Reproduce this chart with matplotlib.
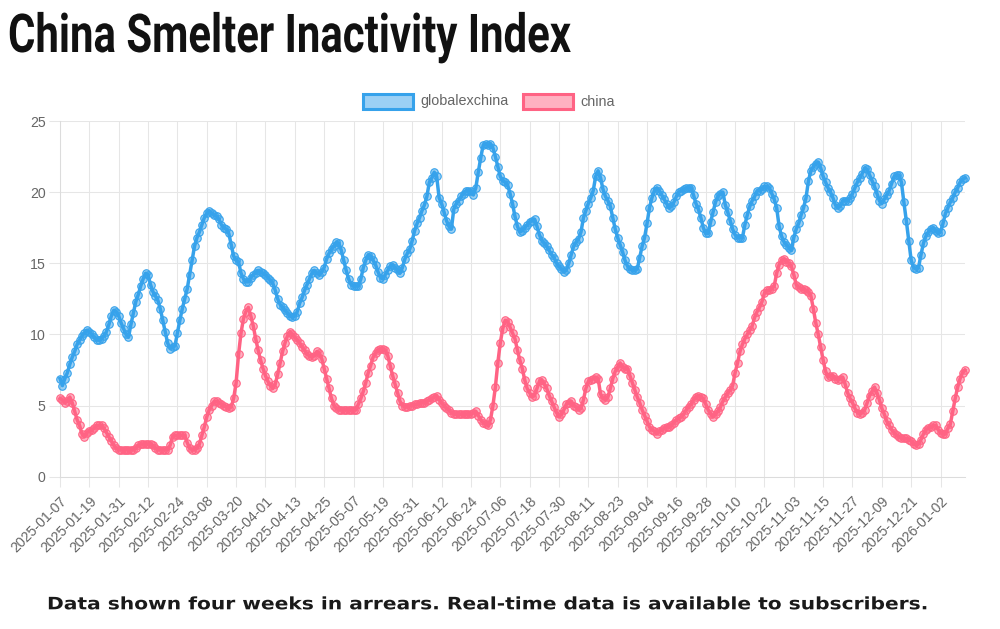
import matplotlib
matplotlib.use("Agg")
import matplotlib.pyplot as plt
from matplotlib.patches import Rectangle
from matplotlib.patheffects import AbstractPathEffect
from matplotlib.transforms import Affine2D
import numpy as np
import pandas as pd

# ---------------- data ----------------
title = "China Smelter Inactivity Index"
footer = "Data shown four weeks in arrears. Real-time data is available to subscribers."
series_names = ["globalexchina", "china"]
start_date = "2025-01-07"
n_days = 371

tick_labels = [
    "2025-01-07", "2025-01-19", "2025-01-31", "2025-02-12", "2025-02-24",
    "2025-03-08", "2025-03-20", "2025-04-01", "2025-04-13", "2025-04-25",
    "2025-05-07", "2025-05-19", "2025-05-31", "2025-06-12", "2025-06-24",
    "2025-07-06", "2025-07-18", "2025-07-30", "2025-08-11", "2025-08-23",
    "2025-09-04", "2025-09-16", "2025-09-28", "2025-10-10", "2025-10-22",
    "2025-11-03", "2025-11-15", "2025-11-27", "2025-12-09", "2025-12-21",
    "2026-01-02",
]
y_ticks = [0, 5, 10, 15, 20, 25]

globalexchina = [
    6.9, 6.4, 6.9, 7.3, 7.9, 8.4, 8.8, 9.3, 9.6, 9.9,
    10.1, 10.3, 10.2, 10.0, 9.8, 9.6, 9.6, 9.7, 9.9, 10.2,
    10.7, 11.3, 11.7, 11.6, 11.3, 10.8, 10.4, 10.0, 9.8, 10.7,
    11.5, 12.3, 12.8, 13.4, 13.9, 14.3, 14.2, 13.5, 13.0, 12.7,
    12.4, 11.8, 11.0, 10.2, 9.4, 9.0, 9.1, 9.2, 10.1, 11.0,
    11.8, 12.5, 13.2, 14.2, 15.2, 16.2, 16.8, 17.2, 17.7, 18.2,
    18.5, 18.7, 18.5, 18.4, 18.3, 18.1, 17.7, 17.5, 17.4, 17.1,
    16.3, 15.5, 15.2, 15.1, 14.3, 13.9, 13.7, 13.7, 14.0, 14.2,
    14.3, 14.5, 14.4, 14.3, 14.2, 14.0, 13.8, 13.6, 13.1, 12.5,
    12.1, 11.9, 11.7, 11.5, 11.3, 11.2, 11.3, 11.6, 12.2, 12.6,
    13.1, 13.5, 13.9, 14.3, 14.5, 14.3, 14.2, 14.4, 14.7, 15.3,
    15.7, 16.0, 16.2, 16.5, 16.4, 15.9, 15.2, 14.5, 13.9, 13.5,
    13.4, 13.4, 13.4, 13.9, 14.7, 15.2, 15.6, 15.5, 15.2, 14.9,
    14.4, 14.0, 13.9, 14.2, 14.5, 14.8, 14.9, 14.7, 14.5, 14.3,
    14.7, 15.3, 15.7, 16.0, 16.6, 17.3, 17.8, 18.2, 18.7, 19.1,
    19.7, 20.7, 21.0, 21.4, 21.1, 19.6, 19.2, 18.6, 18.0, 17.6,
    17.4, 18.8, 19.2, 19.4, 19.7, 19.9, 20.1, 20.1, 20.1, 19.8, 20.3,
    21.4, 22.4, 23.3, 23.4, 23.3, 23.4, 23.1, 22.5, 21.8, 21.1,
    20.8, 20.7, 20.5, 19.9, 19.2, 18.3, 17.6, 17.2, 17.3, 17.5,
    17.7, 17.9, 18.0, 18.1, 17.6, 17.0, 16.6, 16.4, 16.2, 15.9,
    15.6, 15.4, 15.0, 14.8, 14.6, 14.4, 14.5, 15.0, 15.6, 16.2,
    16.5, 16.7, 17.2, 18.2, 18.7, 19.2, 19.6, 20.1, 21.1, 21.5,
    21.0, 20.2, 19.7, 19.4, 19.0, 18.2, 17.4, 16.8, 16.3, 15.8,
    15.2, 14.8, 14.6, 14.5, 14.5, 14.6, 15.4, 16.2, 16.8, 17.8,
    18.9, 19.6, 20.1, 20.3, 20.1, 19.8, 19.5, 19.2, 18.9, 19.0,
    19.3, 19.7, 20.0, 20.1, 20.2, 20.3, 20.3, 20.3, 19.8, 19.2,
    18.8, 18.2, 17.5, 17.1, 17.1, 17.9, 18.6, 19.3, 19.7, 19.9,
    20.0, 19.1, 18.6, 18.0, 17.4, 17.0, 16.8, 16.8, 16.8, 17.7,
    18.4, 19.0, 19.4, 19.7, 20.1, 20.1, 20.2, 20.4, 20.4, 20.3,
    19.9, 19.5, 18.9, 17.6, 16.9, 16.5, 16.3, 16.1, 15.9, 16.8,
    17.4, 17.8, 18.4, 18.9, 19.6, 20.8, 21.5, 21.8, 22.0, 22.1,
    21.7, 21.1, 20.7, 20.3, 20.0, 19.6, 19.1, 18.9, 19.0, 19.4,
    19.4, 19.4, 19.6, 19.9, 20.3, 20.7, 21.0, 21.3, 21.7, 21.6,
    21.2, 20.8, 20.4, 19.9, 19.4, 19.2, 19.5, 19.8, 20.1, 20.6,
    21.1, 21.2, 21.2, 20.7, 19.3, 18.0, 16.6, 15.2, 14.7, 14.6,
    14.7, 15.6, 16.4, 16.9, 17.2, 17.4, 17.5, 17.3, 17.1, 17.2,
    17.8, 18.5, 18.9, 19.3, 19.6, 20.0, 20.3, 20.7, 20.9, 21.0,
]

china = [
    5.5, 5.4, 5.2, 5.3, 5.6, 5.2, 4.6, 4.0, 3.6, 3.0,
    2.8, 3.1, 3.2, 3.3, 3.4, 3.6, 3.6, 3.6, 3.4, 3.1,
    2.8, 2.5, 2.2, 2.0, 1.9, 1.9, 1.9, 1.9, 1.9, 1.9,
    1.9, 2.0, 2.2, 2.3, 2.3, 2.3, 2.3, 2.3, 2.2, 2.0,
    1.9, 1.9, 1.9, 1.9, 1.9, 2.2, 2.8, 2.9, 2.9, 2.9,
    2.9, 2.9, 2.4, 2.0, 1.9, 1.9, 2.0, 2.3, 2.9, 3.5,
    4.2, 4.7, 5.0, 5.3, 5.3, 5.2, 5.1, 5.0, 4.9, 4.8,
    4.9, 5.5, 6.6, 8.6, 10.1, 11.1, 11.6, 11.9, 11.3, 10.6,
    9.7, 8.9, 8.2, 7.6, 7.1, 6.7, 6.4, 6.2, 6.5, 7.2,
    8.0, 8.8, 9.4, 9.9, 10.2, 10.0, 9.8, 9.6, 9.4, 9.1,
    8.9, 8.6, 8.5, 8.4, 8.5, 8.8, 8.7, 8.3, 7.6, 6.9,
    6.2, 5.5, 5.0, 4.8, 4.7, 4.7, 4.7, 4.7, 4.7, 4.7,
    4.7, 4.7, 5.1, 5.5, 6.0, 6.6, 7.3, 7.8, 8.4, 8.7,
    8.9, 9.0, 9.0, 8.9, 8.5, 7.8, 7.1, 6.5, 5.9, 5.3,
    5.0, 4.9, 4.9, 5.0, 5.0, 5.1, 5.1, 5.2, 5.2, 5.2,
    5.3, 5.4, 5.5, 5.6, 5.7, 5.4, 5.2, 5.0, 4.8, 4.7,
    4.5, 4.4, 4.4, 4.4, 4.4, 4.4, 4.4, 4.4, 4.4, 4.5, 4.6,
    4.3, 4.0, 3.8, 3.7, 3.6, 4.0, 5.0, 6.3, 8.0, 9.4,
    10.4, 11.0, 10.9, 10.5, 10.1, 9.7, 8.9, 8.2, 7.6, 6.8,
    6.2, 5.9, 5.6, 5.7, 6.2, 6.7, 6.8, 6.5, 6.2, 5.7,
    5.3, 4.9, 4.5, 4.2, 4.4, 4.7, 5.1, 5.2, 5.3, 5.0,
    4.9, 4.7, 4.8, 5.4, 6.2, 6.7, 6.8, 6.9, 7.0, 6.9,
    5.8, 5.5, 5.4, 5.6, 6.2, 6.9, 7.4, 7.7, 8.0, 7.7,
    7.6, 7.6, 7.1, 6.6, 6.1, 5.6, 5.2, 4.7, 4.3, 3.9,
    3.5, 3.3, 3.2, 3.0, 3.2, 3.3, 3.4, 3.5, 3.5, 3.6,
    3.8, 4.0, 4.1, 4.2, 4.4, 4.7, 4.9, 5.1, 5.4, 5.6,
    5.7, 5.6, 5.5, 5.1, 4.7, 4.4, 4.2, 4.4, 4.6, 4.9,
    5.3, 5.6, 5.9, 6.1, 6.4, 7.3, 8.0, 8.8, 9.3, 9.7,
    10.0, 10.3, 10.6, 11.2, 11.6, 11.9, 12.3, 12.9, 13.1, 13.1,
    13.2, 13.4, 14.3, 14.9, 15.2, 15.3, 15.1, 15.0, 14.8, 14.2,
    13.5, 13.3, 13.2, 13.2, 13.1, 13.0, 12.7, 11.8, 10.8, 10.0,
    9.1, 8.2, 7.4, 7.0, 7.1, 7.1, 6.9, 6.8, 6.9, 7.0,
    6.5, 5.9, 5.5, 5.2, 4.8, 4.5, 4.4, 4.5, 4.7, 5.2,
    5.7, 6.0, 6.3, 5.9, 5.4, 4.8, 4.4, 3.9, 3.6, 3.3,
    3.1, 2.9, 2.8, 2.7, 2.7, 2.7, 2.6, 2.5, 2.3, 2.2,
    2.3, 2.6, 3.0, 3.3, 3.4, 3.5, 3.6, 3.6, 3.3, 3.1,
    3.0, 3.0, 3.4, 3.7, 4.6, 5.5, 6.3, 6.9, 7.3, 7.5,
]

dates = list(pd.date_range(start_date, periods=n_days).strftime("%Y-%m-%d"))
assert len(globalexchina) == len(dates) and len(china) == len(dates)

# ---------------- style ----------------
BLUE = (54 / 255, 162 / 255, 235 / 255)
RED = (255 / 255, 99 / 255, 132 / 255)
BLUE_A = BLUE + (0.5,)
RED_A = RED + (0.5,)
BLUE_LIGHT = "#9bd0f5"
RED_LIGHT = "#ffb1c1"
GRID = "#e6e6e6"
TICKC = "#666666"

plt.rcParams["font.family"] = ["Liberation Sans", "DejaVu Sans"]

W, H = 1000, 629
fig = plt.figure(figsize=(W / 100, H / 100), dpi=100)
fig.patch.set_facecolor("white")


def fx(px):
    return px / W


def fy(py):
    return 1 - py / H


ax = fig.add_axes([fx(60), fy(476.7), (965 - 60) / W, (476.7 - 121) / H])

x = np.arange(len(dates))
for vals, col, colA, z in [(china, RED, RED_A, 3), (globalexchina, BLUE, BLUE_A, 4)]:
    ax.plot(x, vals, color=col, lw=2.5, marker="o", ms=5.4, mfc=colA,
            mec=col, mew=0.8, clip_on=False, zorder=z)

ax.set_xlim(0, len(dates) - 1)
ax.set_ylim(0, 25)
ax.set_yticks(y_ticks)
ax.set_yticklabels([str(v) for v in y_ticks])
tick_pos = [dates.index(lbl) for lbl in tick_labels]
ax.set_xticks(tick_pos)
ax.set_xticklabels(tick_labels, rotation=45, ha="right", va="top",
                   rotation_mode="anchor")

ax.grid(True, color=GRID, lw=0.75, zorder=0)
ax.set_axisbelow(True)
for s in ["top", "right"]:
    ax.spines[s].set_visible(False)
for s in ["left", "bottom"]:
    ax.spines[s].set_color("#dcdcdc")
    ax.spines[s].set_linewidth(0.75)

ax.tick_params(axis="x", length=7.2, width=0.75, color=GRID, pad=5.0,
               labelsize=10.2, labelcolor=TICKC)
ax.tick_params(axis="y", length=7.9, width=0.75, color=GRID, pad=2.4,
               labelsize=10.2, labelcolor=TICKC)

# ---------------- legend ----------------
legend_items = [
    (series_names[0], BLUE, BLUE_LIGHT, 363.2, 420.0),
    (series_names[1], RED, RED_LIGHT, 523.2, 580.7),
]
for name, edge, face, bx, tx in legend_items:
    fig.add_artist(Rectangle((fx(bx), fy(108.8)), 49.3 / W, 14.6 / H,
                             transform=fig.transFigure, facecolor=face,
                             edgecolor=edge, linewidth=2.2))
    fig.text(fx(tx), fy(101.5), name, fontsize=10.4, color=TICKC,
             ha="left", va="center")


# ---------------- title / footer ----------------
class HStretch(AbstractPathEffect):
    def __init__(self, sx, x0):
        super().__init__()
        self.sx = sx
        self.x0 = x0

    def draw_path(self, renderer, gc, tpath, affine, rgbFace=None):
        tr = affine + Affine2D().translate(-self.x0, 0).scale(self.sx, 1).translate(self.x0, 0)
        renderer.draw_path(gc, tpath, tr, rgbFace)


renderer = fig.canvas.get_renderer()

t_title = fig.text(fx(8), fy(52), title, fontsize=38.5, fontweight="bold",
                   family=["Roboto", "DejaVu Sans"], color="#111111",
                   ha="left", va="baseline")
bb = t_title.get_window_extent(renderer)
t_title.set_path_effects([HStretch(564.0 / bb.width, bb.x0)])

t_foot = fig.text(fx(47), fy(609.3), footer, fontsize=12.3, fontweight="bold",
                  family=["DejaVu Sans"], color="#1a1a1a",
                  ha="left", va="baseline")
bb2 = t_foot.get_window_extent(renderer)
t_foot.set_path_effects([HStretch(885.0 / bb2.width, bb2.x0)])

fig.savefig("out.png", dpi=100, facecolor="white")
